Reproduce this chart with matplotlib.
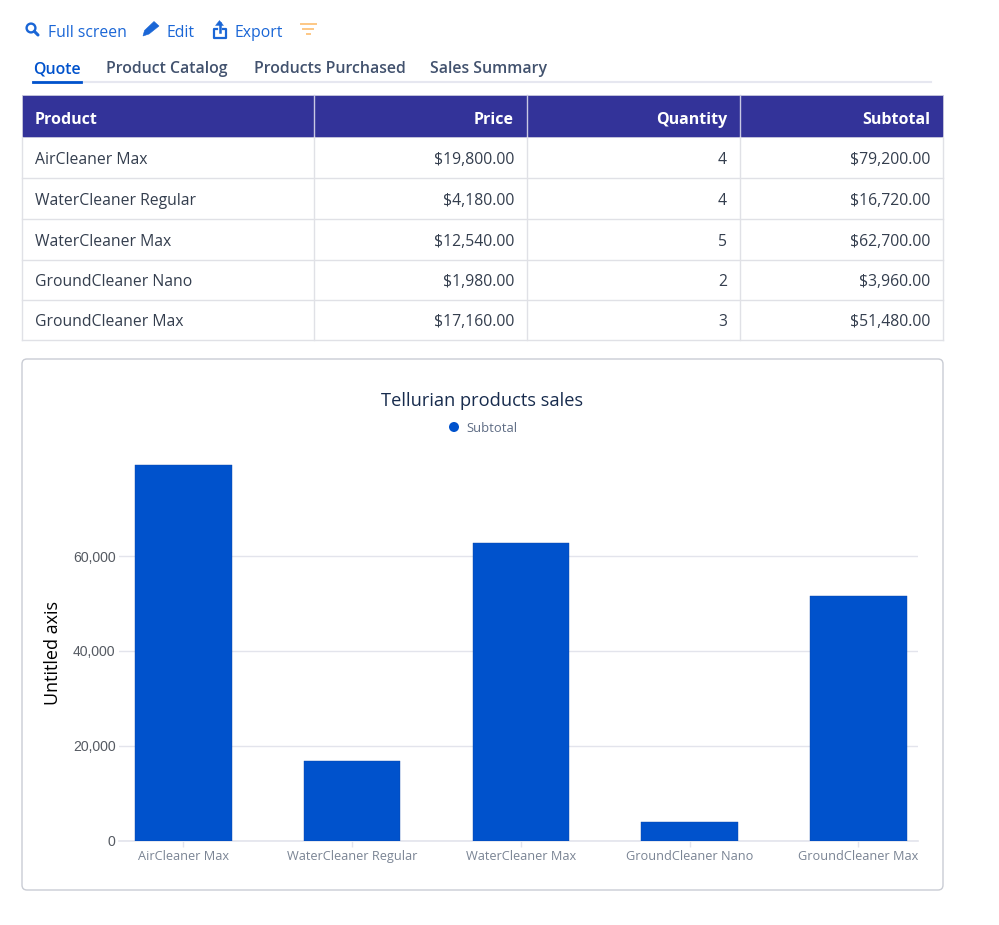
import matplotlib
matplotlib.use('Agg')
import matplotlib.pyplot as plt
from matplotlib.patches import Rectangle, FancyBboxPatch, Circle, Polygon

# Data
products = ['AirCleaner Max', 'WaterCleaner Regular', 'WaterCleaner Max', 'GroundCleaner Nano', 'GroundCleaner Max']
prices = ['$19,800.00', '$4,180.00', '$12,540.00', '$1,980.00', '$17,160.00']
quantities = ['4', '4', '5', '2', '3']
subtotal_labels = ['$79,200.00', '$16,720.00', '$62,700.00', '$3,960.00', '$51,480.00']
subtotals = [79200, 16720, 62700, 3960, 51480]
headers = ['Product', 'Price', 'Quantity', 'Subtotal']
tabs = ['Quote', 'Product Catalog', 'Products Purchased', 'Sales Summary']
actions = ['Full screen', 'Edit', 'Export']
y_ticks = [0, 20000, 40000, 60000]

W, H = 999, 925
BLUE = '#0052cc'
LINK = '#1a66d6'
NAVY = '#333399'
GRID = '#e3e4ec'
UI_FONT = ['Open Sans', 'DejaVu Sans']


def px(size):
    return size * 0.72


def draw_toolbar(page):
    action_x = [48, 167, 235]
    for label, x in zip(actions, action_x):
        page.text(x, 37, label, color=LINK, fontsize=px(15.8), family=UI_FONT, va='baseline')

    # icons
    page.add_patch(Circle((31, 28), 4.4, fill=False, ec=LINK, lw=1.7))
    page.plot([34.5, 38], [31.5, 35], color=LINK, lw=2.2, solid_capstyle='round')
    page.add_patch(Polygon([(143, 36), (144.5, 30.5), (154, 21.5), (159, 26), (149, 34)], fc=LINK, ec=LINK, lw=0.4))
    page.plot([216.5, 213.5, 213.5, 225.5, 225.5, 222.5], [28.5, 28.5, 37.5, 37.5, 28.5, 28.5], color=LINK, lw=1.6)
    page.plot([219.5, 219.5], [32, 23], color=LINK, lw=1.8)
    page.add_patch(Polygon([(215.5, 25.5), (219.5, 20.5), (223.5, 25.5)], fc=LINK, ec=LINK, lw=0.3))
    for y, x0, x1 in [(23.5, 300.5, 315.5), (28.5, 303, 313), (34, 307, 309.5)]:
        page.plot([x0, x1], [y, y], color='#fdc784', lw=1.4)

    tab_x = [33, 106, 254, 430]
    for i, (label, x) in enumerate(zip(tabs, tab_x)):
        page.text(x, 73, label, color=BLUE if i == 0 else '#42526e', fontsize=px(15.9),
                  family=UI_FONT, weight='semibold', va='baseline')
    page.plot([33, 931], [82, 82], color='#e6e7f0', lw=1.5)
    page.plot([33, 81], [82, 82], color=BLUE, lw=2)


def draw_table(page):
    col_edges = [22, 314, 527, 740, 943]
    row_edges = [137, 178, 219, 260, 300, 340]

    page.add_patch(Rectangle((22, 95), 921, 42, fc=NAVY, ec='#c9c9de', lw=0.6))
    for x in col_edges[1:-1]:
        page.plot([x, x], [95, 137], color='#c9c9e4', lw=1)
    for j, label in enumerate(headers):
        x = 35 if j == 0 else col_edges[j + 1] - 13
        page.text(x, 124, label, color='white', fontsize=px(16), family=UI_FONT, weight='bold',
                  ha='left' if j == 0 else 'right', va='baseline')

    columns = [products, prices, quantities, subtotal_labels]
    for i in range(5):
        y = (row_edges[i] + row_edges[i + 1]) / 2 + 6.5
        for j, col in enumerate(columns):
            x = 35 if j == 0 else col_edges[j + 1] - 13
            page.text(x, y, col[i], color='#343e4e', fontsize=px(15.8), family=UI_FONT,
                      ha='left' if j == 0 else 'right', va='baseline')
    for y in row_edges[1:]:
        page.plot([22, 943], [y, y], color='#e0e1e6', lw=1)
    for x in col_edges:
        page.plot([x, x], [137, 340], color='#e0e1e6', lw=1)


def draw_chart(fig, page):
    page.add_patch(FancyBboxPatch((22, 359), 921, 531, boxstyle='round,pad=0,rounding_size=5',
                                  fc='white', ec='#c9ccd4', lw=1))
    page.text(482, 406, 'Tellurian products sales', color='#172b4d', fontsize=px(18.3),
              family=UI_FONT, ha='center', va='baseline')
    page.add_patch(Circle((454, 427), 5, fc=BLUE, ec='none'))
    page.text(466, 432, 'Subtotal', color='#5e6c84', fontsize=px(13), family=UI_FONT, va='baseline')

    # plot area in pixels: x 119-918, y 440-840.5, categories start at x=99
    left, right, top, bottom = 119, 918, 440, 840.5
    ax = fig.add_axes([left / W, 1 - bottom / H, (right - left) / W, (bottom - top) / H])
    ax.patch.set_alpha(0)
    band = 168.75
    ax.set_xlim(-0.5 + (left - 99) / band, -0.5 + (right - 99) / band)
    ax.set_ylim(0, (bottom - top) / 284.5 * 60000)

    ax.bar(range(len(products)), subtotals, width=0.572, color=BLUE, edgecolor='#0a47a9', linewidth=0.3, zorder=3)
    ax.set_yticks(y_ticks)
    ax.set_yticklabels([f'{v:,}' for v in y_ticks], family='Liberation Sans', fontsize=px(14), color='#555a62')
    ax.tick_params(axis='y', length=0, pad=2.5)
    ax.grid(axis='y', color=GRID, lw=1, zorder=0)
    ax.set_axisbelow(True)

    ax.set_xticks(range(len(products)))
    ax.set_xticklabels(products, family=UI_FONT, fontsize=px(12.8), color='#7a8494')
    ax.tick_params(axis='x', length=4, direction='out', color=GRID, pad=3, width=1)
    for lab in ax.get_xticklabels():
        lab.set_clip_on(True)
        lab.set_clip_box(matplotlib.transforms.Bbox([[0, 0], [right, H]]))

    for name in ['top', 'right', 'left']:
        ax.spines[name].set_visible(False)
    ax.spines['bottom'].set_color(GRID)
    ax.spines['bottom'].set_linewidth(1.2)

    page.text(53.5, 653, 'Untitled axis', color='black', fontsize=px(18), family=UI_FONT,
              rotation=90, ha='center', va='center')


def main():
    fig = plt.figure(figsize=(W / 100, H / 100), dpi=100, facecolor='white')
    page = fig.add_axes([0, 0, 1, 1])
    page.set_xlim(0, W)
    page.set_ylim(H, 0)
    page.axis('off')

    draw_toolbar(page)
    draw_table(page)
    draw_chart(fig, page)

    fig.savefig('out.png', dpi=100)
    plt.close(fig)


if __name__ == "__main__":
    main()
